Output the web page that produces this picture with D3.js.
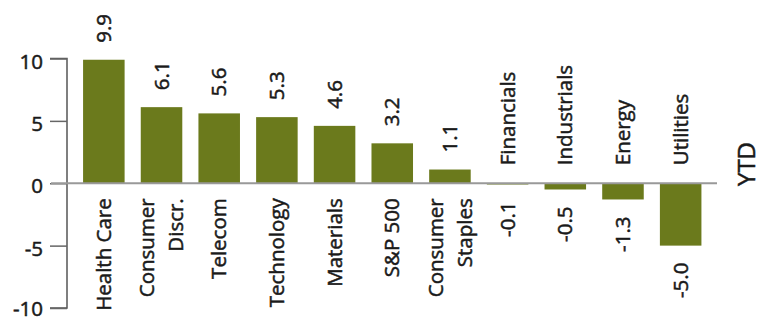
<!DOCTYPE html>
<html><head><meta charset="utf-8">
<script src="https://cdn.jsdelivr.net/npm/d3@7"></script>
<style>body{margin:0;background:#fff} text{paint-order:stroke}</style>
</head><body>
<script>
const categories = [["Health Care"],["Consumer","Discr."],["Telecom"],["Technology"],["Materials"],["S&P 500"],["Consumer","Staples"],["Financials"],["Industrials"],["Energy"],["Utilities"]];
const values = [9.9, 6.1, 5.6, 5.3, 4.6, 3.2, 1.1, -0.1, -0.5, -1.3, -5.0];
const valueLabels = ["9.9","6.1","5.6","5.3","4.6","3.2","1.1","-0.1","-0.5","-1.3","-5.0"];
const yTicks = [-10, -5, 0, 5, 10];
const seriesName = "YTD";

const W = 765, H = 321;
const font = "'Open Sans', sans-serif";
const fs = 20.5;
const barColor = "#6b7a1c";
const textColor = "#1a1a1a";
const textStroke = 0.5;

const svg = d3.select("body").append("svg").attr("width", W).attr("height", H);

const x = d3.scaleBand().domain(d3.range(values.length)).range([75, 709.5]).paddingInner(0.28).paddingOuter(0.14);
const y = d3.scaleLinear().domain([-10, 10]).range([308, 58.5]);

function styleText(sel, size) {
  sel.attr("font-family", font).attr("font-size", size || fs)
    .attr("fill", textColor).attr("stroke", textColor).attr("stroke-width", textStroke);
}

// bars
svg.selectAll("rect.bar").data(values).join("rect")
  .attr("class","bar")
  .attr("x", (d,i) => x(i))
  .attr("width", x.bandwidth())
  .attr("y", d => y(Math.max(0,d)))
  .attr("height", d => Math.abs(y(d) - y(0)))
  .attr("fill", barColor);

// y axis
const axisX = 67;
const yAxis = svg.append("g").attr("transform", `translate(${axisX},0)`)
  .call(d3.axisLeft(y).tickValues(yTicks).tickSize(17).tickPadding(7).tickFormat(d => d));
yAxis.select(".domain").attr("stroke", "#555").attr("stroke-width", 1.5).attr("d", `M-17,${y(10)}H0V${y(-10)}H-17`);
yAxis.selectAll(".tick line").attr("stroke", "#666").attr("stroke-width", 1.5);
yAxis.selectAll(".tick text").call(styleText).attr("dy", d => d === -10 ? "0.36em" : "0.47em");

// zero line
svg.append("line").attr("x1", 51).attr("x2", 717).attr("y1", y(0)).attr("y2", y(0))
  .attr("stroke", "#999").attr("stroke-width", 2);

// value labels
svg.selectAll("text.val").data(values).join("text")
  .attr("class","val")
  .attr("transform", (d,i) => {
    const cx = x(i) + x.bandwidth()/2;
    const yy = d >= 0 ? y(d) - 17 : y(d) + 17;
    return `translate(${cx},${yy}) rotate(-90)`;
  })
  .attr("text-anchor", d => d >= 0 ? "start" : "end")
  .attr("dy","0.35em")
  .call(styleText)
  .text((d,i) => valueLabels[i]);

// category labels
const lh = 29;
const cg = svg.selectAll("g.cat").data(categories).join("g")
  .attr("class","cat")
  .attr("transform", (d,i) => {
    const cx = x(i) + x.bandwidth()/2;
    const yy = values[i] >= 0 ? y(0) + 15 : y(0) - 18;
    return `translate(${cx},${yy}) rotate(-90)`;
  });
cg.each(function(lines, i) {
  const g = d3.select(this);
  const n = lines.length;
  lines.forEach((t, k) => {
    g.append("text")
      .attr("x", 0)
      .attr("y", (k - (n-1)/2) * lh)
      .attr("dy","0.35em")
      .attr("text-anchor", values[i] >= 0 ? "end" : "start")
      .call(styleText)
      .text(t);
  });
});

// series label
svg.append("text")
  .attr("transform", `translate(747,164) rotate(-90)`)
  .attr("text-anchor","middle").attr("dy","0.35em")
  .call(styleText, 24)
  .text(seriesName);
</script>
</body></html>
